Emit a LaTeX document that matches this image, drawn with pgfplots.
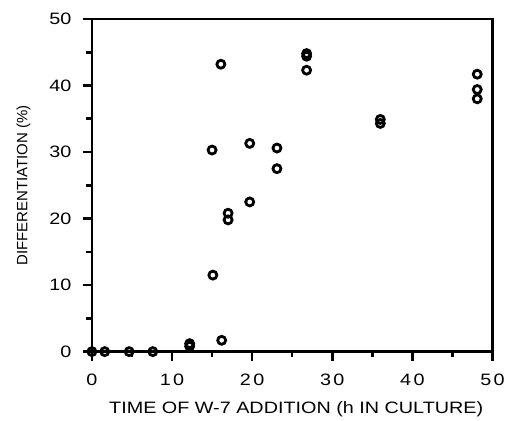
\documentclass[border=0pt]{standalone}
\usepackage{fontspec}
\setmainfont{Liberation Sans}
\usepackage{graphicx}
\usepackage{pgfplots}
\pgfplotsset{compat=1.18}
\newcommand{\wider}[1]{\scalebox{1.2}[1]{#1}}
\begin{document}
\begin{tikzpicture}
\begin{axis}[
  scale only axis,
  width=401pt, height=333pt,
  xmin=0, xmax=50, ymin=0, ymax=50,
  xtick={0,10,...,50}, ytick={0,10,...,50},
  xticklabels={\wider{0},\wider{1\hspace{2pt}0},\wider{2\hspace{2pt}0},\wider{3\hspace{2pt}0},\wider{4\hspace{2pt}0},\wider{5\hspace{2pt}0}},
  yticklabels={\wider{0},\wider{10},\wider{20},\wider{30},\wider{40},\wider{50}},
  minor xtick={5,15,...,45}, minor ytick={5,15,...,45},
  tick align=outside,
  xtick pos=bottom, ytick pos=left,
  major tick length=9pt, minor tick length=5.5pt,
  every tick/.style={black, line width=2.6pt},
  every outer x axis line/.append style={line width=2.6pt},
  every outer y axis line/.append style={line width=2.6pt},
  axis line style={line width=2.6pt},
  tick label style={font=\fontsize{16.5}{18}\selectfont},
  xticklabel style={yshift=-10pt},
  yticklabel style={xshift=-8pt},
  label style={font=\fontsize{15}{18}\selectfont},
  xlabel={\wider{\fontsize{16.5}{19}\selectfont TIME OF W-7 ADDITION (h IN CULTURE)}},
  ylabel={DIFFERENTIATION (\%)},
  xlabel style={at={([xshift=4pt,yshift=-62pt]axis description cs:0.5,0)}, anchor=base},
  ylabel shift=12pt,
  clip=false,
]
\addplot[only marks, mark=o, mark size=4pt, black, line width=2.8pt, mark options={line width=2.8pt}] coordinates {
(0,0) (1.6,0) (4.65,0) (7.6,0)
(12.2,0.8) (12.2,1.2)
(15.1,11.5) (16.2,1.7)
(17.0,20.8) (17.0,19.8)
(15.0,30.3) (16.1,43.2)
(19.7,31.3) (19.7,22.5)
(23.1,30.6) (23.1,27.5)
(26.8,44.8) (26.8,44.4) (26.8,42.3)
(36.0,34.9) (36.0,34.3)
(48.1,41.7) (48.1,39.4) (48.1,38.0)
};
\end{axis}
\path ([xshift=-92pt,yshift=-65pt]current axis.south west) rectangle ([xshift=15pt,yshift=19pt]current axis.north east);
\end{tikzpicture}
\end{document}
